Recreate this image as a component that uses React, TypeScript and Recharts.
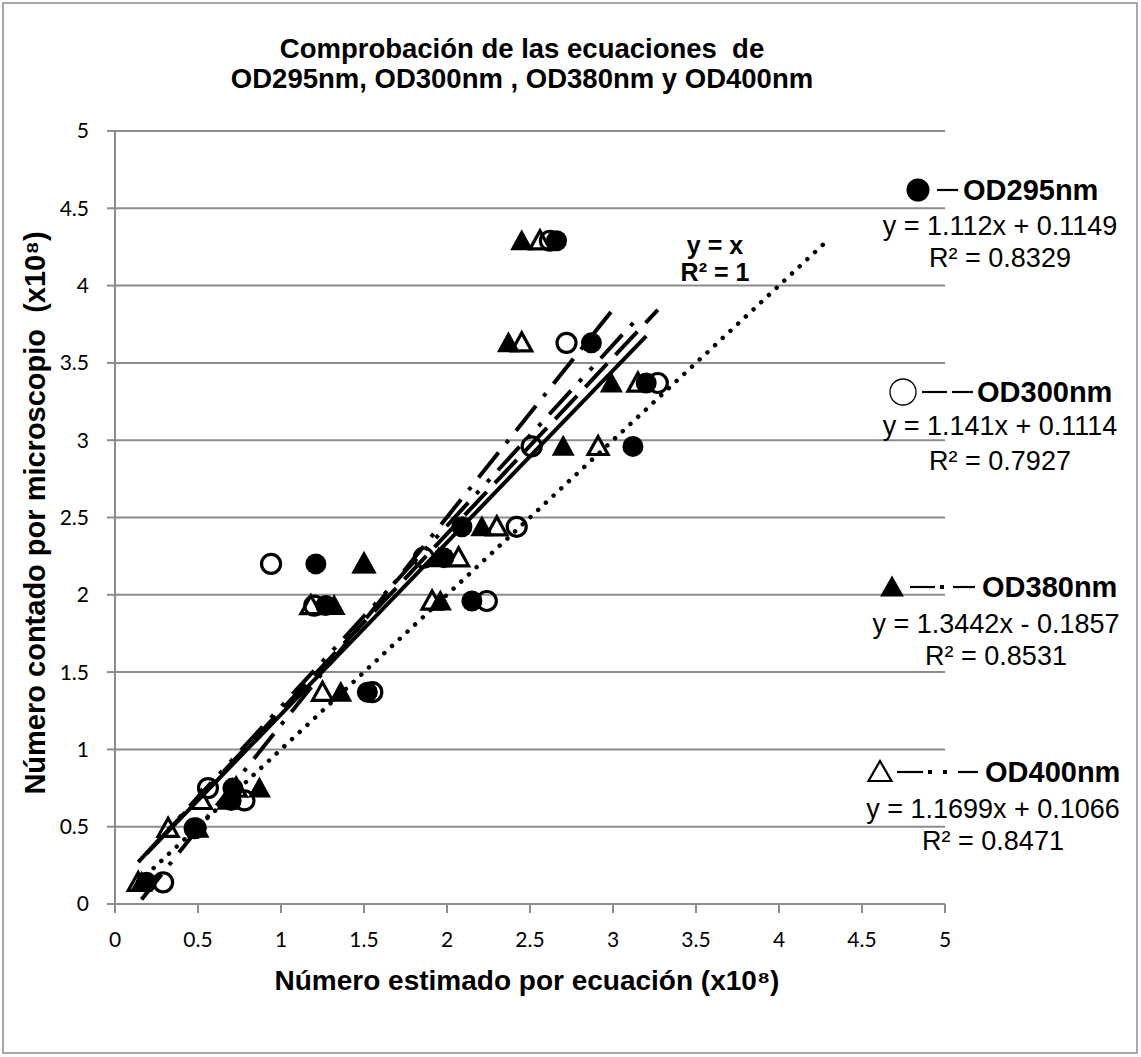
import React from 'react';
import { ScatterChart, Scatter, XAxis, YAxis, CartesianGrid } from 'recharts';

// ---- data ----
const axisTicks = [0, 0.5, 1, 1.5, 2, 2.5, 3, 3.5, 4, 4.5, 5];

// microscope counts (y, x10^8) shared by the four wavelengths
const microscopio = [4.29, 3.63, 3.37, 2.96, 2.44, 2.24, 2.2, 1.96, 1.93, 1.37, 0.75, 0.67, 0.49, 0.14];

// estimated counts (x, x10^8)
const od295 = [2.66, 2.87, 3.2, 3.12, 2.09, 1.98, 1.21, 2.15, 1.27, 1.52, 0.71, 0.7, 0.49, 0.19];
const od300 = [2.62, 2.72, 3.27, 2.51, 2.42, 1.86, 0.94, 2.24, 1.2, 1.55, 0.56, 0.78, 0.48, 0.29];
const od380 = [2.45, 2.37, 2.99, 2.7, 2.21, 1.95, 1.5, 1.96, 1.32, 1.36, 0.87, 0.68, 0.5, 0.16];
const od400 = [2.56, 2.45, 3.15, 2.91, 2.3, 2.07, 1.5, 1.91, 1.18, 1.25, 0.73, 0.52, 0.32, 0.14];

const seriesNames = ['OD295nm', 'OD300nm', 'OD380nm', 'OD400nm'];
const slopes = [1.112, 1.141, 1.3442, 1.1699];
const intercepts = [0.1149, 0.1114, -0.1857, 0.1066];
const equations = ['y = 1.112x + 0.1149', 'y = 1.141x + 0.1114', 'y = 1.3442x - 0.1857', 'y = 1.1699x + 0.1066'];
const rSquared = ['R² = 0.8329', 'R² = 0.7927', 'R² = 0.8531', 'R² = 0.8471'];

const titleLines = ['Comprobación de las ecuaciones  de', 'OD295nm, OD300nm , OD380nm y OD400nm'];
const xTitle = 'Número estimado por ecuación (x10⁸)';
const yTitle = 'Número contado por microscopio  (x10⁸)';
const identityLabel = ['y = x', 'R² = 1'];

// ---- helpers ----
const toPoints = (xs: number[]) => xs.map((x, i) => ({ x, y: microscopio[i] }));
const trendPoints = (xs: number[], m: number, b: number) => {
  const lo = Math.min(...xs);
  const hi = Math.max(...xs);
  return [
    { x: lo, y: m * lo + b },
    { x: hi, y: m * hi + b },
  ];
};
const yLo = Math.min(...microscopio);
const yHi = Math.max(...microscopio);
const identityPoints = [
  { x: yLo, y: yLo },
  { x: yHi, y: yHi },
];

const FilledCircle = (p: any) => <circle cx={p.cx} cy={p.cy} r={10.5} fill="#000" />;
const HollowCircle = (p: any) => (
  <circle cx={p.cx} cy={p.cy} r={9.5} fill="none" stroke="#000" strokeWidth={3.2} />
);
const triPts = (cx: number, cy: number, w: number, h: number) =>
  `${cx},${cy - h * 0.55} ${cx + w / 2},${cy + h * 0.45} ${cx - w / 2},${cy + h * 0.45}`;
const FilledTri = (p: any) => <polygon points={triPts(p.cx, p.cy, 23, 21)} fill="#000" />;
const HollowTri = (p: any) => (
  <polygon points={triPts(p.cx, p.cy, 20, 18)} fill="none" stroke="#000" strokeWidth={3.2} strokeLinejoin="miter" />
);
const NoShape = () => <g />;

const shapes = [FilledCircle, HollowCircle, FilledTri, HollowTri];
const seriesX = [od295, od300, od380, od400];
const dashes = ['', '32 12', '32 12 4 12', '32 12 4 12 4 12'];

const FONT = "'Liberation Sans', Arial, sans-serif";

// legend layout (pixel positions of the custom legend)
const legendCenters = [
  { nameY: 190, eqY: 225, r2Y: 257, cx: 1000, markerX: 918, textX: 963 },
  { nameY: 392, eqY: 425, r2Y: 460, cx: 1000, markerX: 903, textX: 977 },
  { nameY: 587, eqY: 623, r2Y: 655, cx: 996, markerX: 892, textX: 982 },
  { nameY: 772, eqY: 808, r2Y: 840, cx: 993, markerX: 880, textX: 985 },
];

function LegendMarker({ i, x, y }: { i: number; x: number; y: number }) {
  if (i === 0) return <circle cx={x} cy={y} r={11.5} fill="#000" />;
  if (i === 1) return <circle cx={x} cy={y} r={13} fill="#fff" stroke="#000" strokeWidth={1.3} />;
  if (i === 2) return <polygon points={triPts(x, y, 24, 21)} fill="#000" />;
  return <polygon points={triPts(x, y, 23, 20)} fill="#fff" stroke="#000" strokeWidth={2.2} />;
}

function LegendLine({ i, y }: { i: number; y: number }) {
  const s = { stroke: '#000', strokeWidth: 2.2 };
  if (i === 0) return <line x1={937} x2={958} y1={y} y2={y} {...s} />;
  if (i === 1)
    return (
      <g>
        <line x1={922} x2={947} y1={y} y2={y} {...s} />
        <line x1={952} x2={973} y1={y} y2={y} {...s} />
      </g>
    );
  if (i === 2)
    return (
      <g>
        <line x1={910} x2={935} y1={y} y2={y} {...s} />
        <rect x={940} y={y - 2} width={4} height={4} fill="#000" />
        <line x1={953} x2={975} y1={y} y2={y} {...s} />
      </g>
    );
  return (
    <g>
      <line x1={897} x2={923} y1={y} y2={y} {...s} />
      <rect x={928} y={y - 2} width={4} height={4} fill="#000" />
      <rect x={943} y={y - 2} width={4} height={4} fill="#000" />
      <line x1={958} x2={978} y1={y} y2={y} {...s} />
    </g>
  );
}

export default function App() {
  const tickStyle = { fontFamily: 'Lato, sans-serif', fontSize: 21, fill: '#000' };
  return (
    <div style={{ position: 'absolute', left: 0, top: 0, width: 1141, height: 1057, background: '#fff' }}>
      <div style={{ position: 'absolute', left: 0, top: 0 }}>
        <ScatterChart width={1141} height={1057} margin={{ top: 131, right: 196, bottom: 113, left: 25 }}>
          <CartesianGrid vertical={false} stroke="#8c8c8c" strokeWidth={2} />
          <XAxis
            type="number"
            dataKey="x"
            domain={[0, 5]}
            ticks={axisTicks}
            height={40}
            tickSize={9}
            tickMargin={19}
            stroke="#8c8c8c"
            strokeWidth={2}
            tick={tickStyle}
            interval={0}
          />
          <YAxis
            type="number"
            dataKey="y"
            domain={[0, 5]}
            ticks={axisTicks}
            width={90}
            tickSize={8}
            tickMargin={18}
            stroke="#8c8c8c"
            strokeWidth={2}
            tick={tickStyle}
            interval={0}
          />
          {seriesX.map((xs, i) => (
            <Scatter
              key={seriesNames[i]}
              name={seriesNames[i]}
              data={toPoints(xs)}
              fill="#000"
              shape={shapes[i]}
              isAnimationActive={false}
            />
          ))}
          {seriesX.map((xs, i) => (
            <Scatter
              key={'trend-' + seriesNames[i]}
              data={trendPoints(xs, slopes[i], intercepts[i])}
              fill="#000"
              shape={NoShape}
              line={{ stroke: '#000', strokeWidth: 4, strokeDasharray: dashes[i] || undefined }}
              isAnimationActive={false}
            />
          ))}
          <Scatter
            data={identityPoints}
            fill="#000"
            shape={NoShape}
            line={{ stroke: '#000', strokeWidth: 4.5, strokeDasharray: '0.01 10.5', strokeLinecap: 'round' }}
            isAnimationActive={false}
          />
        </ScatterChart>
      </div>
      <svg
        width={1141}
        height={1057}
        style={{ position: 'absolute', left: 0, top: 0, pointerEvents: 'none' }}
        fontFamily={FONT}
      >
        <rect x={3} y={3} width={1134} height={1050} fill="none" stroke="#8a8a8a" strokeWidth={1.5} />
        <text x={522} y={58} textAnchor="middle" fontSize={27.5} fontWeight="bold" style={{ whiteSpace: 'pre' }}>
          {titleLines[0]}
        </text>
        <text x={522} y={88} textAnchor="middle" fontSize={27.5} fontWeight="bold" style={{ whiteSpace: 'pre' }}>
          {titleLines[1]}
        </text>
        <text x={527} y={990} textAnchor="middle" fontSize={28} fontWeight="bold">
          {xTitle}
        </text>
        <text
          x={0}
          y={0}
          transform="translate(45,513) rotate(-90)"
          textAnchor="middle"
          fontSize={29}
          fontWeight="bold"
          style={{ whiteSpace: 'pre' }}
        >
          {yTitle}
        </text>
        <text x={715} y={254} textAnchor="middle" fontSize={25} fontWeight="bold">
          {identityLabel[0]}
        </text>
        <text x={715} y={281} textAnchor="middle" fontSize={25} fontWeight="bold">
          {identityLabel[1]}
        </text>
        {legendCenters.map((c, i) => (
          <g key={i}>
            <LegendMarker i={i} x={c.markerX} y={c.nameY} />
            <LegendLine i={i} y={c.nameY} />
            <text x={c.textX} y={c.nameY + 10.4} fontSize={29} fontWeight="bold">
              {seriesNames[i]}
            </text>
            <text x={c.cx} y={c.eqY + 9.7} textAnchor="middle" fontSize={27}>
              {equations[i]}
            </text>
            <text x={c.cx} y={c.r2Y + 9.7} textAnchor="middle" fontSize={27}>
              {rSquared[i]}
            </text>
          </g>
        ))}
      </svg>
    </div>
  );
}
